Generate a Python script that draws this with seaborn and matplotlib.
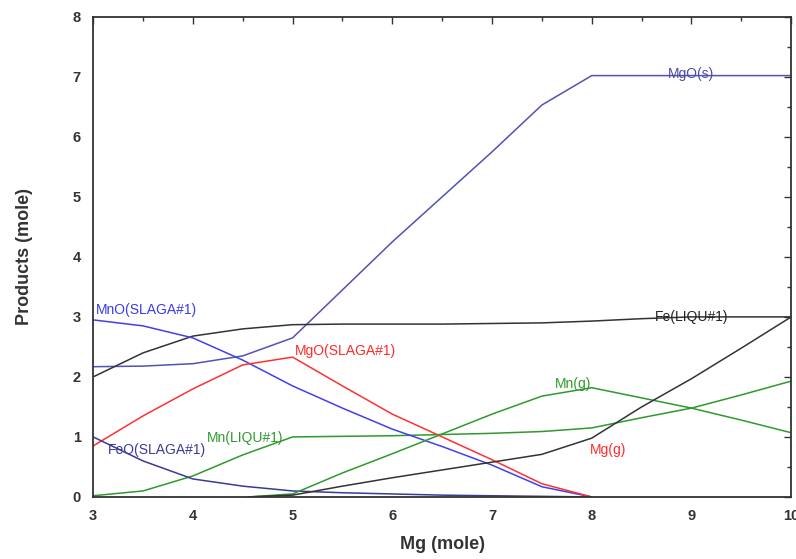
import matplotlib
matplotlib.use("Agg")
import matplotlib.pyplot as plt
import seaborn as sns
import pandas as pd
from matplotlib.ticker import MultipleLocator

sns.set_theme(style="white")
plt.rcParams['font.family'] = ['Liberation Sans', 'DejaVu Sans']

# ---- data ----
x_full = [3, 3.5, 4, 4.5, 5, 5.5, 6, 6.5, 7, 7.5, 8, 8.5, 9, 9.5, 10]
mgo_s = [2.17, 2.18, 2.22, 2.35, 2.65, 3.45, 4.25, 5.0, 5.75, 6.53, 7.02, 7.02, 7.02, 7.02, 7.02]
fe_liq = [2.0, 2.4, 2.68, 2.8, 2.87, 2.88, 2.88, 2.88, 2.89, 2.9, 2.93, 2.97, 3.0, 3.0, 3.0]
mn_liq = [0.02, 0.1, 0.35, 0.7, 1.0, 1.01, 1.02, 1.04, 1.06, 1.09, 1.15, 1.32, 1.48, 1.7, 1.93]

x_slag = [3, 3.5, 4, 4.5, 5, 5.5, 6, 6.5, 7, 7.5, 8]
mno_slag = [2.95, 2.85, 2.65, 2.28, 1.85, 1.48, 1.13, 0.84, 0.53, 0.17, 0.0]
mgo_slag = [0.85, 1.35, 1.8, 2.2, 2.33, 1.85, 1.38, 1.0, 0.62, 0.22, 0.0]
feo_slag = [1.0, 0.6, 0.3, 0.18, 0.1, 0.07, 0.05, 0.03, 0.02, 0.01, 0.0]

x_gas = [4.55, 5, 5.5, 6, 6.5, 7, 7.5, 8, 8.5, 9, 9.5, 10]
mn_g = [0.0, 0.05, 0.4, 0.72, 1.05, 1.38, 1.68, 1.82, 1.65, 1.48, 1.28, 1.07]
mg_g = [0.0, 0.03, 0.18, 0.32, 0.45, 0.58, 0.71, 0.98, 1.5, 1.97, 2.48, 3.0]

series = [
    ("MgO(s)", x_full, mgo_s, "#5252b4"),
    ("Fe(LIQU#1)", x_full, fe_liq, "#333333"),
    ("Mn(LIQU#1)", x_full, mn_liq, "#2e9a2e"),
    ("MnO(SLAGA#1)", x_slag, mno_slag, "#4040f0"),
    ("MgO(SLAGA#1)", x_slag, mgo_slag, "#ff3030"),
    ("FeO(SLAGA#1)", x_slag, feo_slag, "#3a3a98"),
    ("Mn(g)", x_gas, mn_g, "#2e9a2e"),
    ("Mg(g)", x_gas, mg_g, "#333333"),
]

labels = [
    ("MgO(s)", 8.76, 7.05, "#4a4aa8"),
    ("Fe(LIQU#1)", 8.63, 3.0, "#222222"),
    ("MnO(SLAGA#1)", 3.03, 3.12, "#3a3af0"),
    ("MgO(SLAGA#1)", 5.02, 2.43, "#ff2a2a"),
    ("Mn(g)", 7.63, 1.88, "#2e9a2e"),
    ("Mn(LIQU#1)", 4.14, 0.98, "#2e9a2e"),
    ("FeO(SLAGA#1)", 3.15, 0.78, "#3a3a98"),
    ("Mg(g)", 7.98, 0.78, "#ff2a2a"),
]

fig = plt.figure(figsize=(7.96, 5.59), dpi=100)
ax = fig.add_axes([0.117, 0.111, 0.877, 0.859])

for name, xs, ys, col in series:
    df = pd.DataFrame({"x": xs, "y": ys})
    sns.lineplot(data=df, x="x", y="y", ax=ax, color=col, lw=1.1, sort=False)

for text, tx, ty, col in labels:
    ax.text(tx, ty, text, color=col, fontsize=10, va="center", ha="left")

ax.set_xlim(3, 10)
ax.set_ylim(0, 8)
ax.xaxis.set_major_locator(MultipleLocator(1))
ax.xaxis.set_minor_locator(MultipleLocator(0.5))
ax.yaxis.set_major_locator(MultipleLocator(1))
ax.yaxis.set_minor_locator(MultipleLocator(0.5))
ax.tick_params(which="both", direction="in", top=True, right=True,
               labelsize=10.5, color="#333333")
ax.tick_params(which="major", length=5, width=1)
ax.tick_params(which="minor", length=3, width=1)
ax.tick_params(axis="x", which="major", pad=9)
ax.tick_params(axis="y", which="major", pad=9)
for lab in ax.get_xticklabels() + ax.get_yticklabels():
    lab.set_fontweight("bold")
    lab.set_color("#333333")
for sp in ax.spines.values():
    sp.set_color("#333333")
    sp.set_linewidth(1.3)

ax.set_xlabel("Mg (mole)", fontsize=13, fontweight="bold", color="#333333", labelpad=9)
ax.set_ylabel("Products (mole)", fontsize=13, fontweight="bold", color="#333333", labelpad=28)

fig.savefig("out.png", dpi=100)
